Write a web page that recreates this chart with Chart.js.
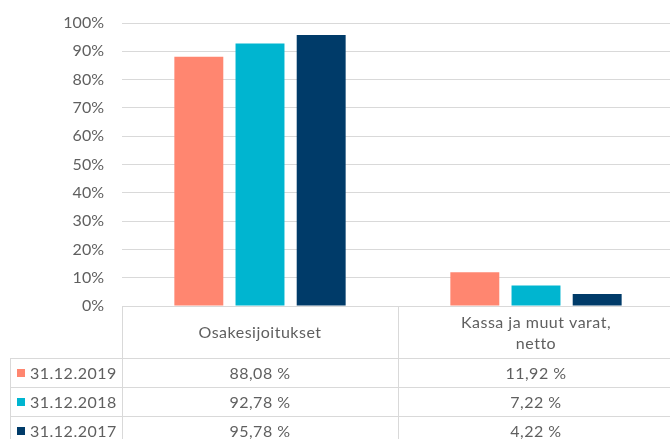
<!DOCTYPE html>
<html>
<head>
<meta charset="utf-8">
<script src="https://cdn.jsdelivr.net/npm/chart.js@4"></script>
<style>
  html, body { margin: 0; padding: 0; background: #fff; overflow: hidden; }
  #wrap { width: 670px; height: 439px; overflow: hidden; }
</style>
</head>
<body>
<div id="wrap"><canvas id="chart" width="676" height="439"></canvas></div>
<script>
// Chart data
const categories = ['Osakesijoitukset', ['Kassa ja muut varat,', 'netto']];
const seriesLabels = ['31.12.2019', '31.12.2018', '31.12.2017'];
const values2019 = [88.08, 11.92];
const values2018 = [92.78, 7.22];
const values2017 = [95.78, 4.22];
const tableText = [
  ['88,08 %', '11,92 %'],
  ['92,78 %', '7,22 %'],
  ['95,78 %', '4,22 %'],
];
const colors = ['#FF8670', '#00B5D0', '#003B69'];

const textColor = '#5f5f5f';
const lineColor = '#D9D9D9';
const fontFamily = 'Lato, "DejaVu Sans", sans-serif';

// Draws the data table under the plot, aligned to the x scale
const dataTable = {
  id: 'dataTable',
  afterDraw(chart) {
    const ctx = chart.ctx;
    const x = chart.scales.x;
    const area = chart.chartArea;
    const n = categories.length;
    const step = x.getPixelForValue(1) - x.getPixelForValue(0);
    const edges = [];
    for (let i = 0; i <= n; i++) edges.push(x.getPixelForValue(i) - step / 2);
    const right = edges[n];
    const leftCol = 10;
    const headerBottom = area.bottom + 52;
    const rowH = 29;

    ctx.save();
    ctx.strokeStyle = lineColor;
    ctx.lineWidth = 1;
    ctx.beginPath();
    // vertical borders
    edges.forEach((ex) => {
      ctx.moveTo(Math.round(ex) + 0.5, area.bottom);
      ctx.lineTo(Math.round(ex) + 0.5, chart.height);
    });
    ctx.moveTo(leftCol + 0.5, headerBottom);
    ctx.lineTo(leftCol + 0.5, chart.height);
    // horizontal borders
    for (let r = 0; r <= seriesLabels.length; r++) {
      const y = Math.round(headerBottom + r * rowH) + 0.5;
      ctx.moveTo(leftCol, y);
      ctx.lineTo(right, y);
    }
    ctx.stroke();

    ctx.fillStyle = textColor;
    ctx.font = '16px ' + fontFamily;
    ctx.letterSpacing = '0.5px';
    ctx.textAlign = 'center';
    ctx.textBaseline = 'middle';
    // header
    categories.forEach((c, i) => {
      const cx = x.getPixelForValue(i);
      const lines = Array.isArray(c) ? c : [c];
      const lh = 21;
      const y0 = area.bottom + 27 - ((lines.length - 1) * lh) / 2;
      lines.forEach((l, k) => ctx.fillText(l, cx, y0 + k * lh));
    });
    // rows
    seriesLabels.forEach((s, r) => {
      const cy = headerBottom + r * rowH + rowH / 2 + 1;
      ctx.fillStyle = colors[r];
      ctx.fillRect(17, Math.round(cy) - 5, 8, 8);
      ctx.fillStyle = textColor;
      ctx.textAlign = 'left';
      ctx.fillText(s, 30, cy);
      ctx.textAlign = 'center';
      tableText[r].forEach((t, i) => ctx.fillText(t, x.getPixelForValue(i), cy));
    });
    ctx.restore();
  },
};

const ctx = document.getElementById('chart').getContext('2d');
new Chart(ctx, {
  type: 'bar',
  data: {
    labels: categories,
    datasets: [
      { label: seriesLabels[0], data: values2019, backgroundColor: colors[0] },
      { label: seriesLabels[1], data: values2018, backgroundColor: colors[1] },
      { label: seriesLabels[2], data: values2017, backgroundColor: colors[2] },
    ],
  },
  options: {
    responsive: false,
    animation: false,
    layout: { padding: { top: 23, bottom: 133, left: 0, right: 2 } },
    datasets: {
      bar: { barPercentage: 0.8, categoryPercentage: 0.665 },
    },
    plugins: {
      legend: { display: false },
      tooltip: { enabled: false },
    },
    scales: {
      x: { display: false },
      y: {
        min: 0,
        max: 100,
        afterFit(scale) {
          scale.width = 122;
          scale.paddingTop = 0; // keep the plot top where the layout padding puts it
          scale.paddingBottom = 0;
        },
        border: { display: false },
        grid: { color: lineColor, drawTicks: false },
        ticks: {
          stepSize: 10,
          padding: 18,
          color: textColor,
          font: { family: fontFamily, size: 16 },
          callback: (v) => v + '%',
        },
      },
    },
  },
  plugins: [dataTable],
});
</script>
</body>
</html>
